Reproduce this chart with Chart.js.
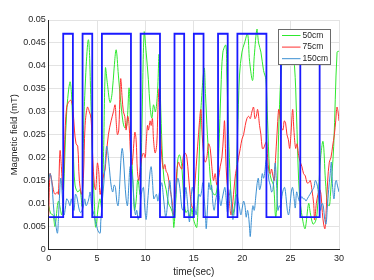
<!DOCTYPE html>
<html>
<head>
<meta charset="utf-8">
<script src="https://cdn.jsdelivr.net/npm/chart.js@4.4.0/dist/chart.umd.min.js"></script>
<style>
  html, body { margin:0; padding:0; background:#fff; }
  #wrap { width:374px; height:280px; }
</style>
</head>
<body>
<div id="wrap"><canvas id="fieldChart" width="374" height="280"></canvas></div>
<script>
// square wave (switching signal), step points
const waveT = [0,1.5,2.5,3.5,4.5,5.5,8.5,9.5,11.5,13,14,15,16,17.5,18.5,19.5,22.5,24,26,28,29];
const waveV = [0.007,0.047,0.007,0.047,0.007,0.047,0.007,0.047,0.007,0.047,0.007,0.047,0.007,0.047,0.007,0.047,0.007,0.047,0.007,0.047,0.047];

// 50cm
const t50 = [0,0.2,0.45,0.65,1.0,1.35,1.52,1.86,2.2,2.38,2.55,2.72,3.0,3.24,3.45,3.66,4.1,4.38,4.55,4.72,4.86,5.14,5.3,5.48,5.66,5.86,6.07,6.34,6.55,6.76,6.97,7.2,7.45,7.66,7.86,8.07,8.31,8.48,8.7,8.86,9.03,9.21,9.45,9.62,9.86,10.07,10.3,10.48,10.66,10.83,11.03,11.24,11.41,11.59,11.76,11.93,12.14,12.38,12.62,12.83,12.93,13.17,13.34,13.52,13.76,13.93,14.17,14.38,14.62,14.8,14.97,15.31,15.48,15.72,16.07,16.2,16.4,16.62,16.8,17.03,17.28,17.45,17.59,17.8,18.0,18.31,18.41,18.59,18.76,18.93,19.03,19.31,19.52,19.72,19.97,20.24,20.55,20.76,21.07,21.24,21.52,21.69,21.93,22.2,22.45,22.62,22.83,23.03,23.24,23.45,23.59,23.76,24.0,24.3,24.7,25.1,25.4,25.6,25.83,26.0,26.28,26.5,26.86,27.03,27.31,27.55,27.72,27.9,28.1,28.35,28.6,28.8,29.0,29.1,29.45,29.8,30];
const v50 = [0.0095,0.0078,0.0075,0.005,0.0105,0.0075,0.012,0.03,0.0365,0.033,0.021,0.014,0.0125,0.013,0.0095,0.03,0.0457,0.031,0.018,0.01,0.0048,0.0095,0.011,0.009,0.02,0.0395,0.036,0.032,0.034,0.0395,0.0435,0.038,0.032,0.028,0.0265,0.027,0.0352,0.025,0.015,0.0085,0.0105,0.0152,0.012,0.025,0.0473,0.043,0.037,0.031,0.0286,0.0315,0.03,0.034,0.0425,0.03,0.02,0.015,0.013,0.01,0.009,0.0075,0.0048,0.012,0.0195,0.0206,0.018,0.012,0.008,0.0085,0.007,0.009,0.0065,0.0048,0.015,0.03,0.0395,0.034,0.025,0.018,0.0135,0.012,0.012,0.015,0.022,0.035,0.043,0.0445,0.038,0.025,0.015,0.009,0.0075,0.012,0.025,0.038,0.043,0.045,0.047,0.041,0.0368,0.042,0.048,0.045,0.043,0.039,0.037,0.028,0.017,0.015,0.014,0.007,0.01,0.025,0.038,0.044,0.046,0.044,0.04,0.03,0.015,0.01,0.006,0.0045,0.01,0.008,0.0055,0.006,0.0075,0.013,0.02,0.0235,0.015,0.01,0.0095,0.0115,0.0224,0.043,0.0432];

// 75cm
const t75 = [0,0.14,0.31,0.48,0.65,0.9,1.0,1.17,1.31,1.45,1.52,1.72,1.86,2.03,2.28,2.48,2.66,2.83,3.0,3.17,3.41,3.59,3.76,4.0,4.2,4.38,4.55,4.72,4.86,5.03,5.17,5.31,5.48,5.66,5.83,5.93,6.17,6.45,6.69,6.86,6.97,7.1,7.24,7.38,7.45,7.59,7.72,7.86,8.0,8.17,8.31,8.48,8.62,8.9,9.03,9.17,9.31,9.45,9.62,9.8,9.97,10.07,10.21,10.31,10.48,10.59,10.72,10.83,11.0,11.17,11.28,11.41,11.52,11.69,11.86,12.0,12.14,12.28,12.41,12.55,12.72,12.9,13.1,13.24,13.41,13.59,13.76,13.93,14.1,14.28,14.45,14.62,14.76,14.9,15.03,15.17,15.31,15.48,15.72,15.86,16.0,16.17,16.34,16.52,16.69,16.86,17.03,17.2,17.38,17.55,17.72,17.9,18.07,18.17,18.28,18.41,18.55,18.69,18.83,18.97,19.1,19.31,19.45,19.62,19.8,19.97,20.14,20.31,20.48,20.66,20.83,21.0,21.17,21.31,21.45,21.59,21.79,21.93,22.07,22.2,22.38,22.52,22.62,22.76,22.9,23.03,23.17,23.31,23.45,23.59,23.76,23.86,24.0,24.21,24.34,24.48,24.62,24.76,24.9,25.03,25.21,25.34,25.52,25.66,25.83,26.0,26.17,26.34,26.52,26.69,26.86,27.03,27.2,27.38,27.48,27.66,27.83,28.0,28.14,28.28,28.41,28.55,28.69,28.83,29.0,29.17,29.34,29.52,29.66,29.79,29.9,30];
const v75 = [0.0075,0.0165,0.015,0.013,0.012,0.0125,0.012,0.0215,0.018,0.013,0.015,0.027,0.031,0.032,0.0325,0.031,0.026,0.023,0.0225,0.015,0.012,0.016,0.027,0.031,0.03,0.0285,0.02,0.014,0.013,0.0188,0.017,0.012,0.014,0.016,0.0175,0.02,0.025,0.028,0.03,0.0315,0.028,0.025,0.026,0.035,0.0372,0.033,0.03,0.029,0.026,0.029,0.027,0.02,0.0185,0.0255,0.024,0.017,0.015,0.0175,0.02,0.021,0.02,0.023,0.027,0.026,0.028,0.027,0.0285,0.024,0.021,0.023,0.03,0.035,0.028,0.02,0.0175,0.0185,0.017,0.0165,0.015,0.013,0.011,0.0075,0.012,0.017,0.019,0.018,0.0175,0.0205,0.021,0.02,0.016,0.012,0.0095,0.009,0.012,0.016,0.02,0.025,0.0305,0.025,0.021,0.019,0.02,0.023,0.022,0.018,0.015,0.0165,0.014,0.0155,0.018,0.02,0.025,0.028,0.021,0.015,0.0125,0.01,0.0075,0.009,0.012,0.0165,0.018,0.02,0.022,0.024,0.025,0.027,0.0285,0.029,0.0285,0.03,0.031,0.0285,0.029,0.0305,0.027,0.025,0.022,0.022,0.023,0.0235,0.02,0.017,0.0165,0.0175,0.016,0.015,0.02,0.025,0.0305,0.03,0.027,0.026,0.028,0.0275,0.025,0.024,0.022,0.025,0.0305,0.026,0.022,0.023,0.0205,0.019,0.018,0.0165,0.016,0.0145,0.0145,0.015,0.013,0.01,0.0064,0.01,0.012,0.013,0.012,0.008,0.0055,0.0045,0.009,0.015,0.019,0.02,0.0225,0.025,0.028,0.031,0.03,0.028];

// 150cm
const t150 = [0,0.14,0.31,0.41,0.55,0.69,0.9,1.0,1.1,1.24,1.34,1.45,1.59,1.72,1.86,2.03,2.2,2.34,2.48,2.62,2.76,2.9,3.03,3.17,3.31,3.45,3.59,3.72,3.86,4.0,4.14,4.28,4.41,4.55,4.69,4.83,4.97,5.1,5.31,5.38,5.52,5.72,5.86,6.0,6.17,6.34,6.48,6.62,6.76,6.9,7.03,7.17,7.31,7.45,7.59,7.72,7.86,8.0,8.14,8.28,8.41,8.55,8.69,8.83,8.97,9.1,9.24,9.38,9.52,9.66,9.8,9.93,10.07,10.21,10.34,10.48,10.59,10.72,10.86,11.0,11.14,11.28,11.41,11.55,11.69,11.83,11.97,12.1,12.24,12.38,12.52,12.66,12.79,12.93,13.07,13.21,13.34,13.48,13.62,13.76,13.9,14.03,14.17,14.31,14.45,14.55,14.69,14.83,14.97,15.1,15.24,15.38,15.52,15.66,15.79,15.93,16.07,16.2,16.28,16.41,16.55,16.69,16.83,16.97,17.1,17.24,17.38,17.52,17.66,17.79,17.93,18.07,18.21,18.34,18.48,18.62,18.76,18.9,19.03,19.17,19.31,19.45,19.59,19.72,19.86,20.0,20.14,20.28,20.41,20.55,20.69,20.76,20.83,20.97,21.1,21.24,21.38,21.52,21.66,21.79,21.93,22.07,22.21,22.34,22.48,22.62,22.76,22.9,23.03,23.17,23.31,23.41,23.55,23.69,23.83,23.97,24.1,24.24,24.38,24.52,24.66,24.79,24.93,25.07,25.2,25.34,25.48,25.62,25.76,25.9,26.03,26.17,26.31,26.45,26.59,26.72,26.86,27.0,27.14,27.28,27.41,27.55,27.69,27.83,27.97,28.1,28.24,28.38,28.52,28.66,28.79,28.93,29.07,29.21,29.34,29.48,29.62,29.72,29.83,30];
const v150 = [0.015,0.0165,0.015,0.012,0.008,0.006,0.0035,0.0065,0.011,0.0155,0.014,0.01,0.0075,0.009,0.011,0.0105,0.0095,0.011,0.0095,0.0085,0.012,0.0115,0.01,0.0085,0.008,0.0085,0.0095,0.011,0.0095,0.01,0.011,0.0125,0.01,0.0085,0.0075,0.006,0.005,0.004,0.0035,0.006,0.01,0.015,0.0195,0.0225,0.02,0.016,0.0135,0.0125,0.014,0.0135,0.0105,0.0095,0.013,0.019,0.022,0.02,0.015,0.011,0.0095,0.014,0.018,0.017,0.015,0.01,0.0075,0.0085,0.0065,0.0075,0.011,0.013,0.0135,0.009,0.0065,0.01,0.0135,0.017,0.018,0.015,0.011,0.0115,0.012,0.0105,0.012,0.0135,0.0145,0.012,0.009,0.007,0.009,0.013,0.015,0.0115,0.0085,0.007,0.0095,0.014,0.0155,0.0145,0.012,0.009,0.0085,0.0105,0.0135,0.011,0.0075,0.006,0.01,0.0135,0.012,0.009,0.0075,0.01,0.012,0.0115,0.0125,0.0145,0.011,0.0075,0.0045,0.009,0.0145,0.013,0.014,0.01,0.0085,0.0105,0.012,0.0135,0.011,0.0095,0.011,0.0125,0.0135,0.011,0.008,0.0105,0.013,0.0095,0.0065,0.008,0.0105,0.012,0.0105,0.009,0.0075,0.009,0.0105,0.0095,0.007,0.0085,0.0065,0.0045,0.0028,0.007,0.0095,0.0085,0.011,0.014,0.0155,0.013,0.014,0.0165,0.0155,0.017,0.0195,0.018,0.015,0.014,0.0125,0.013,0.0165,0.0188,0.014,0.0085,0.0095,0.009,0.0115,0.013,0.0135,0.0115,0.0085,0.0075,0.0095,0.0125,0.0135,0.0115,0.009,0.0125,0.0115,0.0105,0.011,0.0115,0.011,0.011,0.0105,0.011,0.0115,0.012,0.0125,0.013,0.0135,0.015,0.0145,0.013,0.01,0.0085,0.01,0.0095,0.0065,0.0055,0.009,0.013,0.016,0.019,0.0135,0.011,0.0145,0.015,0.014,0.0125];

const xTicksMax = 30;
const yTicksMax = 0.05;
const yStep = 0.005;

function pts(ts, vs){ return ts.map((t,i)=>({x:t, y:vs[i]})); }

const FONT = "'Liberation Sans', Arial, Helvetica, sans-serif";
const TXT = "#262626";

// MATLAB style legend box inside the axes
const boxLegend = {
  id: "boxLegend",
  afterDatasetsDraw(chart){
    const ctx = chart.ctx;
    const area = chart.chartArea;
    const x = Math.round(area.right - 61) + 0.5;
    const y = Math.round(area.top + 8.5) + 0.5;
    const w = 52, h = 35;
    const items = chart.data.datasets.filter(d => d.label);
    ctx.save();
    ctx.fillStyle = "#fff";
    ctx.fillRect(x, y, w, h);
    ctx.strokeStyle = "#6b6b6b";
    ctx.lineWidth = 1;
    ctx.strokeRect(x, y, w, h);
    ctx.font = "8.5px " + FONT;
    ctx.textBaseline = "middle";
    ctx.fillStyle = TXT;
    items.forEach((d, i) => {
      const ly = y + 6 + i * 11.6;
      ctx.strokeStyle = d.borderColor;
      ctx.lineWidth = 1;
      ctx.beginPath();
      ctx.moveTo(x + 3.5, ly);
      ctx.lineTo(x + 22, ly);
      ctx.stroke();
      ctx.fillText(d.label, x + 24, ly);
    });
    ctx.restore();
  }
};

new Chart(document.getElementById("fieldChart"), {
  type: "line",
  data: {
    datasets: [
      { label: "50cm", data: pts(t50, v50), borderColor: "#2ee82e", borderWidth: 1, pointRadius: 0, tension: 0.35, order: 3 },
      { label: "75cm", data: pts(t75, v75), borderColor: "#ff3030", borderWidth: 1, pointRadius: 0, tension: 0.35, order: 2 },
      { label: "150cm", data: pts(t150, v150), borderColor: "#3b8fd2", borderWidth: 1, pointRadius: 0, tension: 0.35, order: 1 },
      { data: pts(waveT, waveV), borderColor: "#1a1aff", borderWidth: 1.8, pointRadius: 0, stepped: "before", order: 0 }
    ]
  },
  options: {
    responsive: false,
    devicePixelRatio: 1,
    animation: false,
    layout: { padding: { left: 0, top: 20, right: 35, bottom: 0 } },
    plugins: { legend: { display: false }, tooltip: { enabled: false } },
    scales: {
      x: {
        type: "linear", min: 0, max: xTicksMax,
        afterFit: s => { s.height = 30.7; },
        ticks: { stepSize: 5, padding: 4, color: TXT, font: { family: FONT, size: 9 } },
        grid: { color: "#e3e3e3", drawTicks: false },
        border: { display: true, color: TXT, width: 1 },
        title: { display: true, text: "time(sec)", color: TXT, font: { family: FONT, size: 10 }, padding: { top: 0, bottom: 1.3 } }
      },
      y: {
        min: 0, max: yTicksMax,
        afterFit: s => { s.width = 48.7; },
        ticks: { stepSize: yStep, padding: 3, color: TXT, font: { family: FONT, size: 9 },
          callback: v => String(Number(v.toFixed(3))) },
        grid: { color: "#e3e3e3", drawTicks: false },
        border: { display: true, color: TXT, width: 1 },
        title: { display: true, text: "Magnetic field (mT)", color: TXT, font: { family: FONT, size: 9.5 }, padding: { top: 9, bottom: 0 } }
      }
    }
  },
  plugins: [boxLegend]
});
</script>
</body>
</html>
